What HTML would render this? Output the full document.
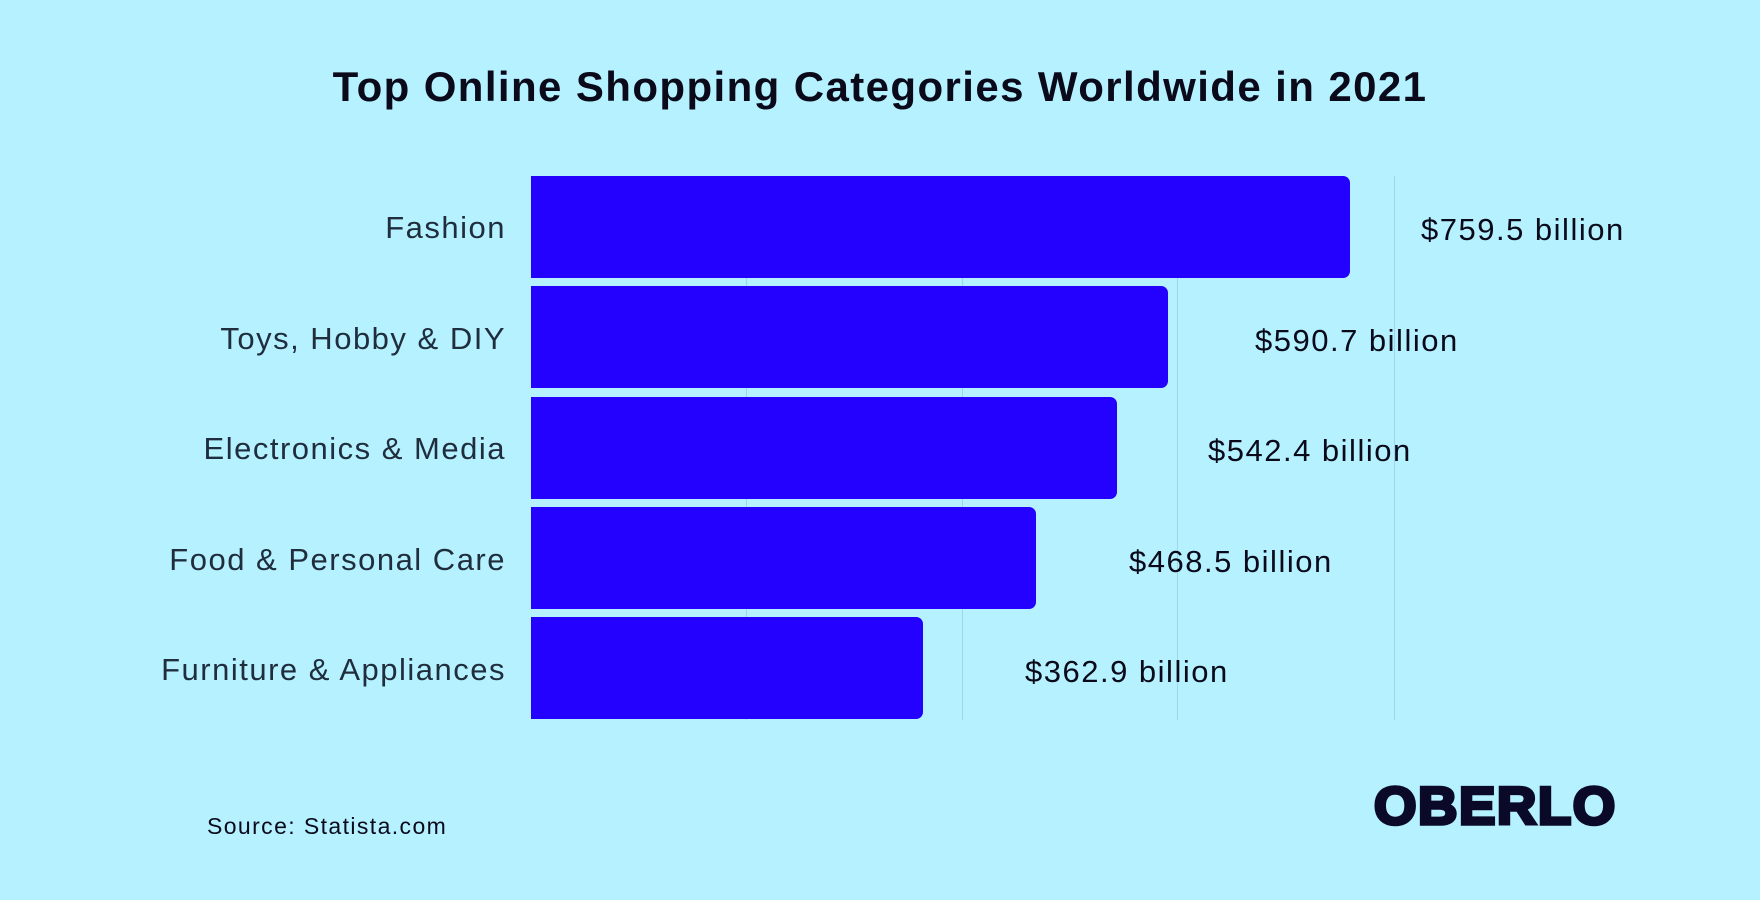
<!DOCTYPE html>
<html><head><meta charset="utf-8"><style>
body{margin:0;width:1760px;height:900px;background:#b5f1ff;position:relative;overflow:hidden;font-family:"Liberation Sans",sans-serif;}
.t{position:absolute;left:0;width:1760px;text-align:center;top:63px;font-size:42px;letter-spacing:1.4px;font-weight:bold;color:#0a0a1a;}
.bar{position:absolute;left:531px;height:102px;background:#2400ff;border-radius:0 7px 7px 0;}
.g{position:absolute;top:176px;height:544px;width:1px;background:#9fd5e6;}
.l{position:absolute;right:1254px;font-size:31px;letter-spacing:1.5px;color:#1f2d3d;transform:translateY(-50%);white-space:nowrap;}
.v{position:absolute;font-size:31px;letter-spacing:1.5px;color:#0a0a1a;transform:translateY(-50%);white-space:nowrap;}
</style></head><body>
<div class="t">Top Online Shopping Categories Worldwide in 2021</div>
<div class="g" style="left:746px"></div><div class="g" style="left:962px"></div><div class="g" style="left:1177px"></div><div class="g" style="left:1394px"></div>
<div class="bar" style="top:176px;width:819px"></div>
<div class="bar" style="top:286px;width:637px"></div>
<div class="bar" style="top:397px;width:586px"></div>
<div class="bar" style="top:507px;width:505px"></div>
<div class="bar" style="top:617px;width:392px"></div>
<div class="l" style="top:228px">Fashion</div>
<div class="l" style="top:339px">Toys, Hobby &amp; DIY</div>
<div class="l" style="top:449px">Electronics &amp; Media</div>
<div class="l" style="top:560px">Food &amp; Personal Care</div>
<div class="l" style="top:670px">Furniture &amp; Appliances</div>
<div class="v" style="top:230px;left:1421px">$759.5 billion</div>
<div class="v" style="top:341px;left:1255px">$590.7 billion</div>
<div class="v" style="top:451px;left:1208px">$542.4 billion</div>
<div class="v" style="top:562px;left:1129px">$468.5 billion</div>
<div class="v" style="top:672px;left:1025px">$362.9 billion</div>
<div style="position:absolute;left:207px;top:813px;font-size:23px;letter-spacing:1.4px;color:#0a0a1a">Source: Statista.com</div>
<div style="position:absolute;left:1374px;top:776px;font-size:53px;font-weight:bold;color:#0a0a28;-webkit-text-stroke:3.5px #0a0a28;letter-spacing:1.5px;transform-origin:left top;transform:scaleX(1.03)">OBERLO</div>
</body></html>
